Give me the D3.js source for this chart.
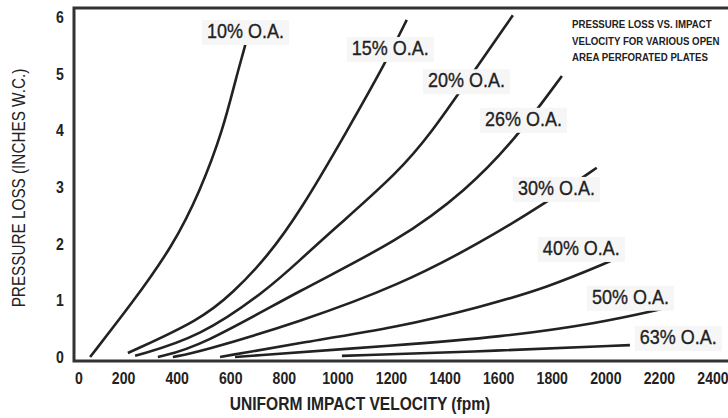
<!DOCTYPE html>
<html>
<head>
<meta charset="utf-8">
<script src="https://cdn.jsdelivr.net/npm/d3@7"></script>
<style>
  html, body { margin: 0; padding: 0; background: #fff; }
  svg { display: block; }
</style>
</head>
<body>
<div id="chart"></div>
<script>
// pressure loss vs. impact velocity, perforated plates. values.
var series = ["10% O.A.", "15% O.A.", "20% O.A.", "26% O.A.", "30% O.A.", "40% O.A.", "50% O.A.", "63% O.A."];

// [velocity fpm, pressure loss in. w.c.]
var oa10 = [[75, 0], [235, 0.97], [384, 1.96], [485, 2.92], [571, 4.0], [623, 4.99], [653, 5.47], [672, 5.86]];
var oa15 = [[216, 0.07], [485, 0.65], [608, 1.13], [735, 1.76], [858, 2.56], [1037, 4.01], [1183, 5.24], [1257, 5.95]];
var oa20 = [[243, 0.02], [485, 0.35], [735, 1.18], [858, 1.71], [981, 2.24], [1231, 3.28], [1354, 4.0], [1455, 4.68], [1653, 6.03]];
var oa26 = [[328, 0.0], [485, 0.18], [858, 1.18], [1231, 2.06], [1481, 2.95], [1660, 3.83], [1836, 4.96]];
var oa30 = [[384, 0.0], [485, 0.09], [858, 0.62], [1231, 1.27], [1530, 2.01], [1784, 2.74], [1966, 3.34]];
var oa40 = [[560, 0.0], [858, 0.25], [1231, 0.53], [1530, 0.88], [1780, 1.22], [2026, 1.71]];
var oa50 = [[616, 0.0], [1231, 0.21], [1604, 0.35], [1978, 0.6], [2220, 0.86]];
var oa63 = [[1015, 0.02], [1604, 0.11], [2090, 0.21]];
var curves = [oa10, oa15, oa20, oa26, oa30, oa40, oa50, oa63];

// label anchors (left edge / baseline of each tag) in data units
var labelAt = [[511, 5.63], [1052, 5.33], [1336, 4.76], [1549, 4.08], [1672, 2.86], [1765, 1.80], [1948, 0.94], [2127, 0.23]];

var xTicks = [0, 200, 400, 600, 800, 1000, 1200, 1400, 1600, 1800, 2000, 2200, 2400];
var yTicks = [0, 1, 2, 3, 4, 5, 6];
var titleLines = ["PRESSURE LOSS VS. IMPACT", "VELOCITY FOR VARIOUS OPEN", "AREA PERFORATED PLATES"];

var W = 728, H = 418;
var FONT = "'Liberation Sans', Arial, sans-serif";
var INK = "#222", FRAME = "#333";
var fl = 74, ft = 8, fb = 361;   // frame edges

var x = d3.scaleLinear().domain([0, 2400]).range([70, 713]);
var y = d3.scaleLinear().domain([0, 6]).range([357, 17]);

var svg = d3.select("#chart").append("svg").attr("width", W).attr("height", H)
  .style("font-family", FONT);

// no condensed face installed, so squeeze Liberation Sans horizontally
function narrow(px, py, k, rot) {
  return "translate(" + px + "," + py + ")" + (rot ? " rotate(" + rot + ")" : "") + " scale(" + k + ",1)";
}

// frame: top, left, bottom (open on the right)
svg.append("path").attr("d", "M" + W + "," + ft + "H" + fl + "V" + fb + "H" + W)
  .attr("fill", "none").attr("stroke", FRAME).attr("stroke-width", 3);

// tick labels
svg.selectAll("text.xt").data(xTicks).enter().append("text").attr("class", "xt")
  .attr("transform", function (d) { return narrow(x(d) + (d === 0 ? 9 : 0), 384, 0.88); })
  .attr("text-anchor", "middle").attr("font-size", 16).attr("font-weight", "bold").attr("fill", INK)
  .text(function (d) { return d; });
svg.selectAll("text.yt").data(yTicks).enter().append("text").attr("class", "yt")
  .attr("transform", function (d) { return narrow(60, y(d) + 6, 0.88); })
  .attr("text-anchor", "middle").attr("font-size", 16).attr("font-weight", "bold").attr("fill", INK)
  .text(function (d) { return d; });

// axis titles
svg.append("text").attr("transform", narrow(360, 410, 0.865)).attr("text-anchor", "middle")
  .attr("font-size", 18).attr("font-weight", "bold").attr("fill", INK).text("UNIFORM IMPACT VELOCITY (fpm)");
svg.append("text").attr("transform", narrow(25, 188, 0.85, -90)).attr("text-anchor", "middle")
  .attr("font-size", 18).attr("fill", INK).text("PRESSURE LOSS (INCHES W.C.)");

// chart title, top right
svg.selectAll("text.tt").data(titleLines).enter().append("text").attr("class", "tt")
  .attr("transform", function (d, i) { return narrow(572, 28 + i * 16.5, 0.88); })
  .attr("font-size", 11).attr("font-weight", "bold").attr("fill", INK).text(function (d) { return d; });

// curves
var line = d3.line().x(function (d) { return x(d[0]); }).y(function (d) { return y(d[1]); }).curve(d3.curveBasis);
svg.selectAll("path.oa").data(curves).enter().append("path").attr("class", "oa")
  .attr("d", line).attr("fill", "none").attr("stroke", INK).attr("stroke-width", 2.6);

// labels with a pale box that breaks the line underneath
var K = 0.857;
var tags = svg.selectAll("g.tag").data(series).enter().append("g").attr("class", "tag")
  .attr("transform", function (d, i) { return "translate(" + x(labelAt[i][0]) + "," + y(labelAt[i][1]) + ")"; });
tags.append("rect").attr("fill", "#f6f6f6");
tags.append("text").attr("transform", "scale(" + K + ",1)").attr("font-size", 21).attr("fill", INK)
  .attr("stroke", INK).attr("stroke-width", 0.35)
  .text(function (d) { return d; });
tags.each(function () {
  var g = d3.select(this), bb = g.select("text").node().getBBox();
  g.select("rect").attr("x", bb.x * K - 5).attr("y", -18).attr("width", bb.width * K + 10).attr("height", 25);
});
</script>
</body>
</html>
